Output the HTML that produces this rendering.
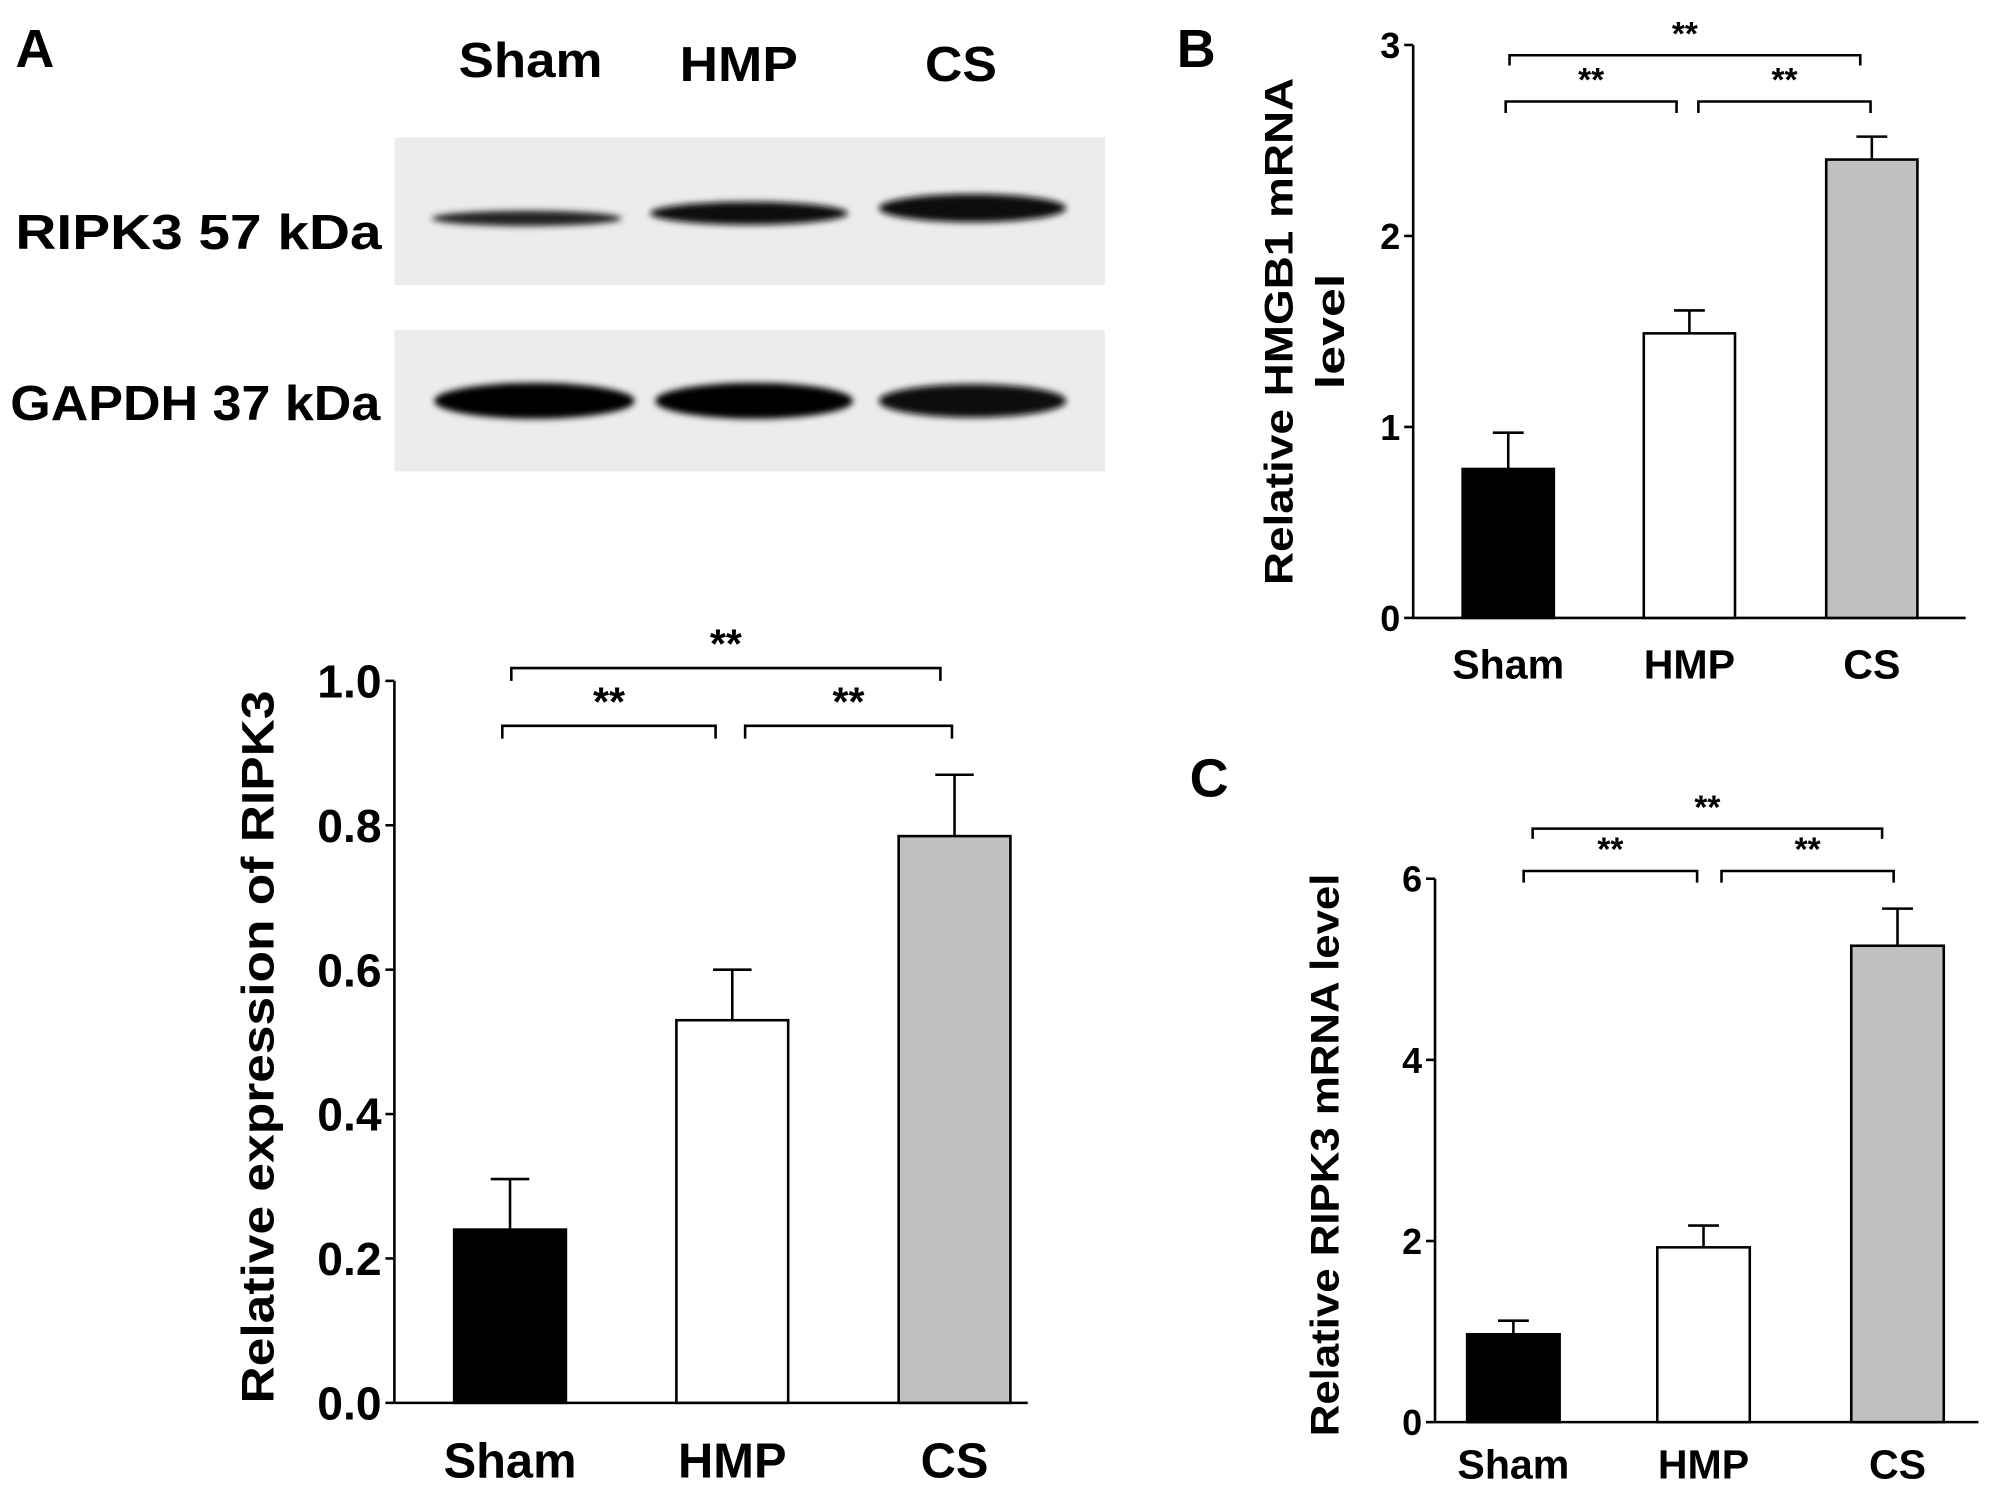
<!DOCTYPE html>
<html><head><meta charset="utf-8"><style>
html,body{margin:0;padding:0;background:#fff;}
svg{display:block;font-family:"Liberation Sans",Arial,sans-serif;font-weight:bold;}
</style></head><body>
<svg id="fig" width="2008" height="1496" viewBox="0 0 1563 1164.5" preserveAspectRatio="none">
<defs>
<filter id="blur2" x="-20%" y="-100%" width="140%" height="300%"><feGaussianBlur stdDeviation="2.5"/></filter>
</defs>
<rect width="1563" height="1165" fill="#fff"/>
<g>
<text x="12" y="52" font-size="42">A</text>
<text x="413" y="60" font-size="38" text-anchor="middle" textLength="112" lengthAdjust="spacingAndGlyphs">Sham</text>
<text x="575" y="63" font-size="38" text-anchor="middle" textLength="92" lengthAdjust="spacingAndGlyphs">HMP</text>
<text x="748" y="63" font-size="38" text-anchor="middle" textLength="56" lengthAdjust="spacingAndGlyphs">CS</text>
<rect x="307" y="107" width="553" height="115" fill="#ececec"/>
<rect x="307" y="257" width="553" height="110" fill="#ececec"/>
<g filter="url(#blur2)">
<ellipse cx="410" cy="170" rx="74" ry="6" fill="#222"/>
<ellipse cx="583" cy="166" rx="77" ry="9" fill="#111"/>
<ellipse cx="757" cy="162" rx="73" ry="11" fill="#0a0a0a"/>
<ellipse cx="416" cy="312" rx="78" ry="14" fill="#050505"/>
<ellipse cx="587" cy="312" rx="77" ry="14" fill="#050505"/>
<ellipse cx="757" cy="312" rx="73" ry="13" fill="#080808"/>
</g>
<text x="12" y="194" font-size="38" textLength="285" lengthAdjust="spacingAndGlyphs">RIPK3 57 kDa</text>
<text x="8" y="327" font-size="38" textLength="288" lengthAdjust="spacingAndGlyphs">GAPDH 37 kDa</text>
</g>
<text x="916" y="52" font-size="42">B</text>
<text x="926" y="620" font-size="42">C</text>
<g id="charts"></g>
</svg>
<script>
const categories = ["Sham","HMP","CS"];
const fills = ["#000","#fff","#c0c0c0"];
const valuesA = [0.24, 0.53, 0.785];
const errorsA = [0.07, 0.07, 0.085];
const ticksA = ["0.0","0.2","0.4","0.6","0.8","1.0"];
const valuesB = [0.78, 1.49, 2.40];
const errorsB = [0.19, 0.12, 0.12];
const ticksB = ["0","1","2","3"];
const valuesC = [0.97, 1.93, 5.26];
const errorsC = [0.15, 0.24, 0.41];
const ticksC = ["0","2","4","6"];

const NS = "http://www.w3.org/2000/svg";
const root = document.getElementById("charts");
function mk(tag, attrs, parent){
  const e = document.createElementNS(NS, tag);
  for (const k in attrs) e.setAttribute(k, attrs[k]);
  (parent||root).appendChild(e);
  return e;
}
function chart(cfg){
  const g = mk("g", {});
  
  
  const y = v => cfg.y0 - (v - cfg.min) / (cfg.max - cfg.min) * (cfg.y0 - cfg.y1);
  const ya = mk("line", {x1:cfg.ax, x2:cfg.ax, y1:cfg.y1, y2:cfg.y0, stroke:"#000", "stroke-width":2}, g);
  
  
  const xa = mk("line", {x1:cfg.ax, x2:cfg.axEnd, y1:cfg.y0, y2:cfg.y0, stroke:"#000", "stroke-width":2}, g);
  
  
  cfg.ticks.forEach((t) => {
    const v = parseFloat(t), yy = y(v);
    mk("line", {x1:cfg.ax-7, x2:cfg.ax, y1:yy, y2:yy, stroke:"#000", "stroke-width":2}, g);
    const tx = mk("text", {x:cfg.ax-10, y:yy+cfg.tfs*0.36, "font-size":cfg.tfs, "text-anchor":"end"}, g);
    tx.textContent = t;
    
    
  });
  categories.forEach((c,i) => {
    const cx = cfg.cx[i], v = cfg.values[i], e = cfg.errors[i];
    const top = y(v), et = y(v+e);
    mk("line", {x1:cx, x2:cx, y1:et, y2:top, stroke:"#000", "stroke-width":2}, g);
    mk("line", {x1:cx-cfg.cap, x2:cx+cfg.cap, y1:et, y2:et, stroke:"#000", "stroke-width":2}, g);
    const b = mk("rect", {x:cx-cfg.bw/2, y:top, width:cfg.bw, height:cfg.y0-top, fill:fills[i], stroke:"#000", "stroke-width":2}, g);
    
    
    const lb = mk("text", {x:cx, y:cfg.ly, "font-size":cfg.lfs, "text-anchor":"middle"}, g);
    lb.textContent = c;
    
    
  });
  cfg.brackets.forEach(br => {
    mk("path", {d:`M${br[0]} ${br[2]+br[3]}V${br[2]}H${br[1]}V${br[2]+br[3]}`, fill:"none", stroke:"#000", "stroke-width":2}, g);
    const s = mk("text", {x:(br[0]+br[1])/2, y:br[2]-8, "font-size":cfg.sfs, "text-anchor":"middle"}, g);
    s.textContent = "**";
    
    
  });
  cfg.title.forEach((t,k) => {
    const tt = mk("text", {x:0, y:0, "font-size":cfg.tifs, "text-anchor":"middle", textLength:cfg.tl[k], lengthAdjust:"spacingAndGlyphs", transform:`translate(${cfg.tx[k]},${cfg.ty}) rotate(-90)`}, g);
    tt.textContent = t;
    
    
  });
}
chart({name:"chart-a", ax:307, axEnd:800, y0:1092, y1:530, min:0, max:1, ticks:ticksA, values:valuesA, errors:errorsA,
  cx:[397,570,743], bw:87, cap:15, ly:1150, lfs:38, tfs:36, sfs:32,
  brackets:[[398,732,520,10],[391,557,565,10],[580,741,565,10]],
  title:["Relative expression of RIPK3"], tl:[555], tx:[213], ty:815, tifs:35});
chart({name:"chart-b", ax:1100, axEnd:1530, y0:481, y1:35, min:0, max:3, ticks:ticksB, values:valuesB, errors:errorsB,
  cx:[1174,1315,1457], bw:71, cap:12, ly:528, lfs:32, tfs:28, sfs:26,
  brackets:[[1175,1448,43,8],[1172,1305,79,9],[1322,1456,79,9]],
  title:["Relative HMGB1 mRNA","level"], tl:[395,90], tx:[1006,1046], ty:258, tifs:31});
chart({name:"chart-c", ax:1117, axEnd:1540, y0:1107, y1:684, min:0, max:6, ticks:ticksC, values:valuesC, errors:errorsC,
  cx:[1178,1326,1477], bw:72, cap:12, ly:1151, lfs:32, tfs:28, sfs:26,
  brackets:[[1193,1465,645,8],[1186,1321,678,9],[1340,1474,678,9]],
  title:["Relative RIPK3 mRNA level"], tl:[438], tx:[1042], ty:899, tifs:31});
</script>
</body></html>
